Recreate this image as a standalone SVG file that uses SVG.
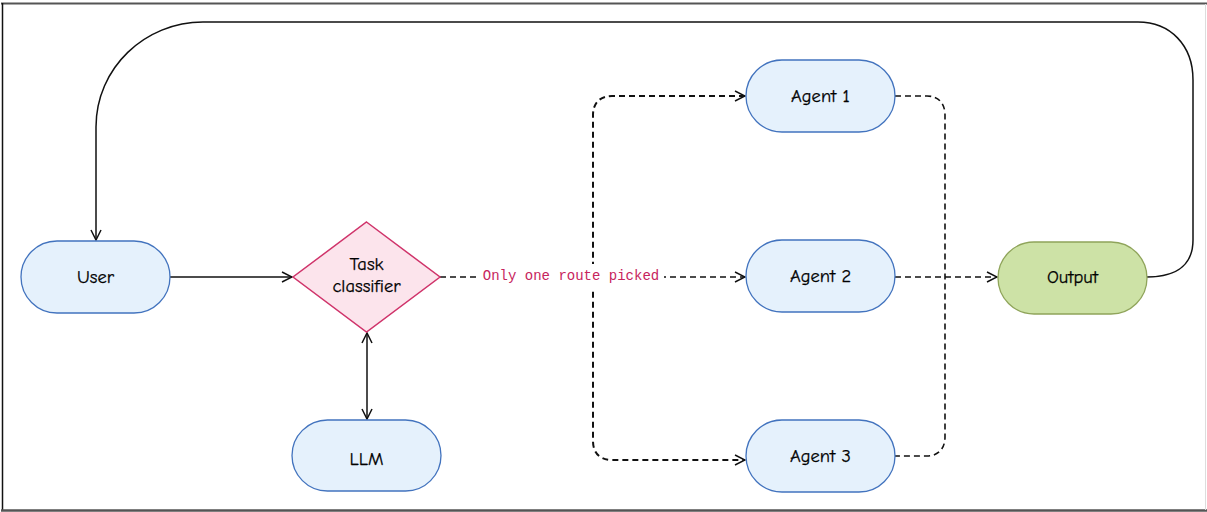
<svg xmlns="http://www.w3.org/2000/svg" width="1207" height="512" viewBox="0 0 1207 512">
<style>
.node rect{stroke-width:1.3}
.blue{fill:#E5F1FC;stroke:#4273BE}
.lbl{font-family:"Comic Neue","Liberation Sans",sans-serif;font-size:18.5px;fill:#000;text-anchor:middle;dominant-baseline:central;stroke:#000;stroke-width:0.25}
.c{fill:none;stroke:#111;stroke-width:1.5}
.d{fill:none;stroke:#111;stroke-width:1.6;stroke-dasharray:6 4}
.dt{fill:none;stroke:#111;stroke-width:2;stroke-dasharray:6 4}
.route{font-family:"Liberation Mono",monospace;font-size:14px;fill:#C7245D;text-anchor:middle;dominant-baseline:central}
</style>
<defs>
<marker id="arr" viewBox="0 0 12 12" refX="11" refY="6" markerWidth="12" markerHeight="12" markerUnits="userSpaceOnUse" orient="auto-start-reverse">
<path d="M1,1 L11,6 L1,11" fill="none" stroke="#111" stroke-width="1.5"/>
</marker>
</defs>
<rect width="1207" height="512" fill="#fff"/>
<g id="frame">
<line x1="1" y1="3.5" x2="1207" y2="3.5" stroke="#555" stroke-width="2"/>
<line x1="2.5" y1="3" x2="2.5" y2="511" stroke="#111" stroke-width="1.5"/>
<line x1="1" y1="510.5" x2="1207" y2="510.5" stroke="#555" stroke-width="2.5"/>
<line x1="1205.5" y1="4" x2="1205.5" y2="510" stroke="#ddd" stroke-width="1"/>
</g>
<g id="connectors">
<path class="c" d="M170,277 L292,277" marker-end="url(#arr)"/>
<path class="c" d="M367,333 L367,419" marker-start="url(#arr)" marker-end="url(#arr)"/>
<path class="c" d="M1147,277 C1180,277 1193,262 1193,240 L1193,80 C1193,45 1170,22 1138,22 L203,22 C145,22 96,68 96,127 L96,240" marker-end="url(#arr)"/>
<path class="d" d="M440,277 L745,277" marker-end="url(#arr)"/>
<path class="dt" d="M745,96 L612,96 C600,96 593,103 593,115 L593,441 C593,453 600,460 612,460 L745,460" marker-start="url(#arr)" marker-end="url(#arr)"/>
<path class="d" d="M895,96 L927,96 C939,96 945,104 945,115 L945,437 C945,449 938,456 927,456 L895,456"/>
<path class="d" d="M895,277 L997,277" marker-end="url(#arr)"/>
<rect x="478" y="264" width="186" height="26" fill="#fff"/>
<text class="route" x="571" y="276">Only one route picked</text>
</g>
<g id="user" class="node"><rect class="blue" x="21" y="241" width="149" height="72" rx="36"/><text class="lbl" x="95.5" y="277">User</text></g>
<g id="task-classifier" class="node"><path d="M366.5,222 L440,277 L366.5,332 L293,277 Z" fill="#FCE4EC" stroke="#D0346B" stroke-width="1.5"/><text class="lbl" x="366.5" y="264">Task</text><text class="lbl" x="366.5" y="286">classifier</text></g>
<g id="llm" class="node"><rect class="blue" x="292" y="420" width="149" height="71" rx="35.5"/><text class="lbl" x="366.5" y="459">LLM</text></g>
<g id="agent1" class="node"><rect class="blue" x="746" y="60" width="149" height="72" rx="36"/><text class="lbl" x="820.5" y="96">Agent 1</text></g>
<g id="agent2" class="node"><rect class="blue" x="746" y="240" width="149" height="72" rx="36"/><text class="lbl" x="820.5" y="276">Agent 2</text></g>
<g id="agent3" class="node"><rect class="blue" x="746" y="420" width="149" height="72" rx="36"/><text class="lbl" x="820.5" y="456">Agent 3</text></g>
<g id="output" class="node"><rect x="998" y="242" width="149" height="72" rx="36" fill="#CDE2A6" stroke="#8FA45A"/><text class="lbl" x="1072.5" y="277">Output</text></g>
</svg>
